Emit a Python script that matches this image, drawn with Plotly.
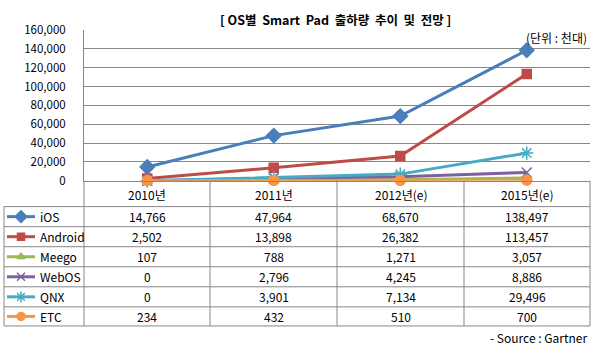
import plotly.graph_objects as go

W, H = 594, 353
years = ["2010년", "2011년", "2012년(e)", "2015년(e)"]
series_names = ["iOS", "Android", "Meego", "WebOS", "QNX", "ETC"]
ios = [14766, 47964, 68670, 138497]
android = [2502, 13898, 26382, 113457]
meego = [107, 788, 1271, 3057]
webos = [0, 2796, 4245, 8886]
qnx = [0, 3901, 7134, 29496]
etc = [234, 432, 510, 700]
y_ticks = [0, 20000, 40000, 60000, 80000, 100000, 120000, 140000, 160000]

values = [ios, android, meego, webos, qnx, etc]
colors = ["#4A7EBB", "#BE4B48", "#98B954", "#7D60A0", "#46AAC5", "#F79646"]
symbols = ["diamond", "square", "triangle-up", "x-thin-open", "asterisk-open", "circle"]
sizes = [11, 9, 9, 10, 11, 10]

FONT = "Noto Sans CJK KR, Noto Sans, sans-serif"
GRID = "#878787"

# layout geometry (pixels)
PL, PR, PT, PB = 84, 590, 22, 180
row_lines = [207, 228, 249, 270, 291, 312, 332]
col_lines = [84, 210, 337, 464, 590]

fig = go.Figure()

for name, v, c, s, sz in zip(series_names, values, colors, symbols, sizes):
    fig.add_trace(go.Scatter(
        x=years, y=v, name=name, mode="lines+markers",
        line=dict(color=c, width=3),
        marker=dict(symbol=s, size=sz, color=c, line=dict(color=c, width=1.5)),
        cliponaxis=False, xaxis="x", yaxis="y", showlegend=False,
    ))

# legend keys in table (pixel axes)
for i, (name, c, s, sz) in enumerate(zip(series_names, colors, symbols, sizes)):
    yc = (row_lines[i] + row_lines[i + 1]) / 2
    fig.add_trace(go.Scatter(
        x=[7, 35], y=[yc, yc], mode="lines", line=dict(color=c, width=3),
        xaxis="x2", yaxis="y2", showlegend=False, hoverinfo="skip", cliponaxis=False))
    fig.add_trace(go.Scatter(
        x=[21], y=[yc], mode="markers",
        marker=dict(symbol=s, size=sz - 2, color=c, line=dict(color=c, width=1.5)),
        xaxis="x2", yaxis="y2", showlegend=False, hoverinfo="skip", cliponaxis=False))
    fig.add_annotation(x=38, y=yc, text=name, xref="x2", yref="y2", showarrow=False,
                       xanchor="left", yanchor="middle", font=dict(size=12, color="#000", family=FONT))
    for j, val in enumerate(values[i]):
        cx = (col_lines[j] + col_lines[j + 1]) / 2
        fig.add_annotation(x=cx, y=yc, text=f"{val:,}", xref="x2", yref="y2", showarrow=False,
                           xanchor="center", yanchor="middle", font=dict(size=12, color="#000", family=FONT))

# header row
for j, yr in enumerate(years):
    cx = (col_lines[j] + col_lines[j + 1]) / 2
    fig.add_annotation(x=cx, y=194, text=yr, xref="x2", yref="y2", showarrow=False,
                       xanchor="center", yanchor="middle", font=dict(size=12, color="#000", family=FONT))

shapes = []
for k, yl in enumerate(row_lines):
    shapes.append(dict(type="line", xref="x2", yref="y2", x0=4, x1=590, y0=yl, y1=yl,
                       line=dict(color=GRID, width=1)))
for xl in col_lines:
    shapes.append(dict(type="line", xref="x2", yref="y2", x0=xl, x1=xl, y0=PB, y1=332,
                       line=dict(color=GRID, width=1)))
shapes.append(dict(type="line", xref="x2", yref="y2", x0=4, x1=4, y0=207, y1=332,
                   line=dict(color=GRID, width=1)))

fig.add_annotation(x=335, y=11, text="<b>[ OS별  Smart  Pad  출하량  추이  및  전망 ]</b>", xref="x2", yref="y2",
                   showarrow=False, xanchor="center", yanchor="middle",
                   font=dict(size=12.5, color="#000", family=FONT))
fig.add_annotation(x=589, y=30, text="(단위 : 천대)", xref="x2", yref="y2", showarrow=False,
                   xanchor="right", yanchor="middle", font=dict(size=12, color="#000", family=FONT))
fig.add_annotation(x=589, y=344, text="- Source : Gartner", xref="x2", yref="y2", showarrow=False,
                   xanchor="right", yanchor="middle", font=dict(size=12, color="#000", family=FONT))

fig.update_layout(
    width=W, height=H, margin=dict(l=0, r=0, t=0, b=0),
    paper_bgcolor="white", plot_bgcolor="rgba(0,0,0,0)",
    font=dict(family=FONT, color="#000"),
    shapes=shapes,
    xaxis=dict(domain=[PL / W, PR / W], type="category", range=[-0.5, 3.5],
               showticklabels=False, showgrid=False, zeroline=False,
               showline=True, linecolor=GRID, linewidth=1, ticks="", anchor="y"),
    yaxis=dict(domain=[1 - PB / H, 1 - PT / H], range=[0, 160000], tickvals=y_ticks,
               tickformat=",", showgrid=True, gridcolor=GRID, gridwidth=1, zeroline=False,
               showline=True, linecolor=GRID, linewidth=1, ticks="", anchor="x",
               ticklabelstandoff=15, tickfont=dict(size=11.5, color="#000", family=FONT)),
    xaxis2=dict(domain=[0, 1], range=[0, W], visible=False, anchor="y2"),
    yaxis2=dict(domain=[0, 1], range=[H, 0], visible=False, anchor="x2"),
)

fig.write_html("out.html")
